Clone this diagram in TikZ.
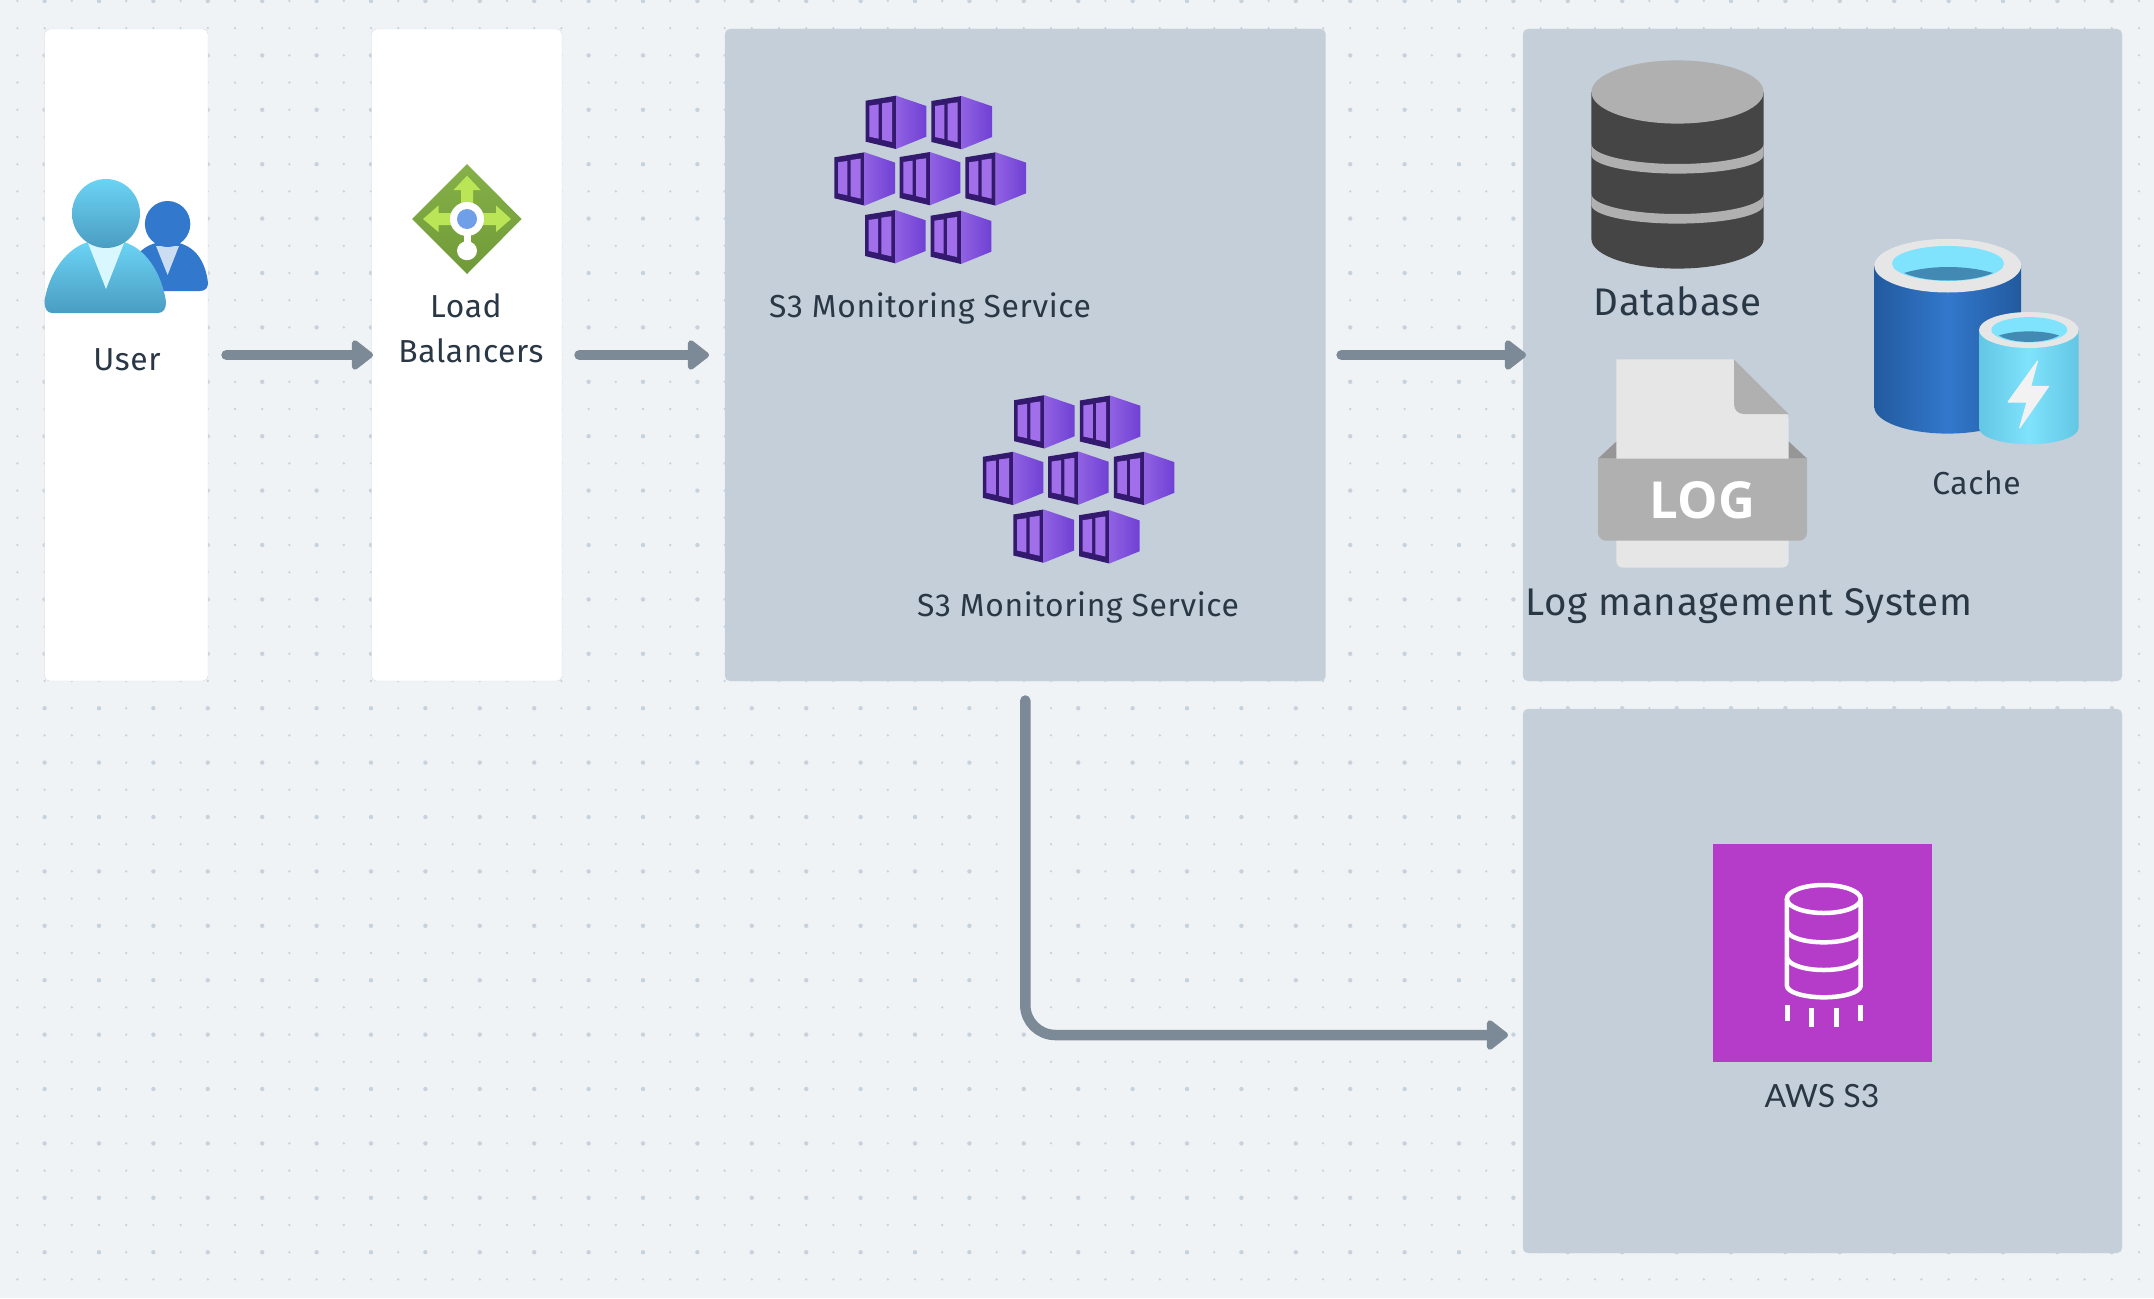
\documentclass[tikz,border=0pt]{standalone}
\usepackage{fontspec}
\usepackage{xcolor}
\usetikzlibrary{arrows.meta}
\setmainfont[LetterSpace=2]{Fira Sans}
\newfontfamily\awsfont{Lato}
\newfontfamily\logfont{Open Sans}
\definecolor{canvasbg}{HTML}{EFF3F6}
\definecolor{griddot}{HTML}{C8D2DD}
\definecolor{panelgray}{HTML}{C4CFD9}
\definecolor{panelline}{HTML}{D3DAE1}
\definecolor{flowgray}{HTML}{7C8996}
\definecolor{labelink}{HTML}{2A3744}
\definecolor{podframe}{HTML}{341A6E}
\definecolor{podglass}{HTML}{A26FEB}
\definecolor{podlight}{HTML}{9062E2}
\definecolor{poddeep}{HTML}{7040D4}
\definecolor{dbdark}{HTML}{454545}
\definecolor{dblight}{HTML}{B0B0B0}
\definecolor{paperlight}{HTML}{E6E6E6}
\definecolor{s3purple}{HTML}{B53BC9}
\definecolor{cacheblue}{HTML}{3278CC}
\definecolor{cachedeep}{HTML}{225A9E}
\definecolor{cachesky}{HTML}{7FE3FD}
\definecolor{cachesoft}{HTML}{63C6E3}
\definecolor{cachewater}{HTML}{428AB3}
\definecolor{usertop}{HTML}{6BD3F4}
\definecolor{userlow}{HTML}{4A9DC2}
\definecolor{gatetop}{HTML}{86B048}
\definecolor{gatelow}{HTML}{6F9A38}
\definecolor{gatecross}{HTML}{B9E556}
\definecolor{gatedot}{HTML}{6E9FE8}
\begin{document}
\begin{tikzpicture}[
    x=1pt,y=-1pt,
    whitebox/.style={draw=panelline,fill=white,rounded corners=5pt,inner sep=0pt,outer sep=0pt},
    graybox/.style={draw=panelline,fill=panelgray,rounded corners=5pt,inner sep=0pt,outer sep=0pt},
    label/.style={text=labelink,inner sep=0pt,align=center,font=\fontsize{31.8}{45}\selectfont},
    biglabel/.style={text=labelink,inner sep=0pt,font=\fontsize{38.5}{45}\selectfont},
    arrow/.style={-{Triangle[length=23pt,width=34pt,round]},line width=10.5pt,line cap=round,draw=flowgray},
    whiteline/.style={draw=white,line width=4.5pt},
    pod/.pic={
        \fill[podframe] (-30.3,5) -- (0,0) -- (0,53.3) -- (-30.3,46) -- cycle;
        \shade[left color=podlight,right color=poddeep] (0,0) -- (30.3,10.3) -- (30.3,41) -- (0,53.3) -- cycle;
        \fill[podglass] (-26.7,10) -- (-17.3,8.7) -- (-17.3,43) -- (-26.7,41) -- cycle;
        \fill[podglass] (-14,7.7) -- (-4,6.3) -- (-4,46.3) -- (-14,44) -- cycle;
    },
    podgroup/.pic={
        \foreach \podx/\pody in {0/0,65.7/0.3,-31.3/56.6,34/56.3,99.7/56.6,-0.7/114.3,65/115}
            \pic at (\podx,\pody) {pod};
    }
]
    \useasboundingbox (0,0) rectangle (2154,1298);
    % Canvas and its dots
    \fill[canvasbg] (0,0) rectangle (2154,1298);
    \foreach \i in {0,...,78}
        \foreach \j in {0,...,47} {
            \pgfmathsetmacro{\dotr}{(isodd(\i) && iseven(\j)) ? 2.2 : 1.3}
            \fill[griddot] (17.4+27.2*\i,1+27.2*\j) circle[radius=\dotr pt];
        }
    % Panels
    \node[whitebox,minimum width=163.5pt,minimum height=652pt] (user) at (126.25,355) {};
    \node[whitebox,minimum width=190.5pt,minimum height=652pt] (balancer) at (466.75,355) {};
    \node[graybox,minimum width=600.6pt,minimum height=652pt] (service) at (1025.3,355) {};
    \node[graybox,minimum width=599pt,minimum height=652pt] (storage) at (1822.5,355) {};
    \node[graybox,minimum width=599pt,minimum height=544pt] (bucket) at (1822.5,981) {};
    \coordinate (bucketin) at (1508,1035);
    % Arrows
    \draw[arrow,shorten <=18.5pt,shorten >=-1.5pt] (user) -- (balancer);
    \draw[arrow,shorten <=17.5pt,shorten >=16pt] (balancer) -- (service);
    \draw[arrow,shorten <=16pt,shorten >=-3pt] (service) -- (storage);
    \draw[arrow,rounded corners=30pt,shorten <=19.5pt] (service.south) |- (bucketin);
    % User icon
    \fill[cacheblue] (156,243) .. controls (148,245) and (140,250) .. (135,258) -- (150,291) -- (200,291)
        .. controls (206,291) and (208,287) .. (208,283) .. controls (206,265) and (198,248) .. (179,243) -- cycle;
    \fill[cacheblue!25!white] (156,246) -- (179,246) -- (167.6,275) -- cycle;
    \fill[cacheblue] (167.6,224) ellipse[x radius=22.7pt,y radius=23pt];
    \shade[top color=usertop,bottom color=userlow] (88,242) .. controls (62,250) and (47,280) .. (44.5,302)
        .. controls (44.5,308) and (47,313) .. (52,313) -- (158,313) .. controls (164,313) and (166,308) .. (166,302)
        .. controls (163,280) and (150,250) .. (124,242) -- cycle;
    \fill[cachesky!30!white] (88,243) -- (124,243) -- (106,289) -- cycle;
    \shade[top color=usertop,bottom color=userlow] (106,213.5) ellipse[x radius=34pt,y radius=34.5pt];
    \node[label] (userlabel) at (127,360) {User};
    % Load balancer icon
    \shade[top color=gatetop,bottom color=gatelow] (467,164) -- (521.6,219) -- (467,274) -- (412,219) -- cycle;
    \fill[gatecross] (467,175.7) -- (480.5,190) -- (473,190) -- (473,213) -- (496,213) -- (496,205.5) -- (511,219)
        -- (496,232) -- (496,225) -- (438.5,225) -- (438.5,232) -- (423,219) -- (438.5,205.5) -- (438.5,213) -- (461,213) -- (461,190) -- (453.5,190) -- cycle;
    \fill[white] (467,219) circle[radius=17pt];
    \fill[white] (463.5,230) rectangle (470.5,245);
    \fill[white] (467,250.7) ellipse[x radius=10pt,y radius=9.5pt];
    \fill[gatedot] (467,219) circle[radius=10pt];
    \node[label] (balancerlabel) at (471,328.5) {Load\hspace*{10pt}\\Balancers};
    % Service icons
    \pic at (896,95.7) {podgroup};
    \pic at (1044.4,395.2) {podgroup};
    \node[label] (podlabela) at (930,308) {S3 Monitoring Service};
    \node[label] (podlabelb) at (1078,607.5) {S3 Monitoring Service};
    % Database icon
    \fill[dbdark] (1591.4,92) -- (1591.4,239) arc[start angle=180,end angle=360,x radius=86.1pt,y radius=29.6pt] -- (1763.6,92) -- cycle;
    \fill[dblight] (1591.4,144) arc[start angle=180,end angle=360,x radius=86.1pt,y radius=20pt] -- ++(0,11)
        arc[start angle=360,end angle=180,x radius=86.1pt,y radius=18.6pt] -- cycle;
    \fill[dblight] (1591.4,194) arc[start angle=180,end angle=360,x radius=86.1pt,y radius=20pt] -- ++(0,11)
        arc[start angle=360,end angle=180,x radius=86.1pt,y radius=18.6pt] -- cycle;
    \fill[dblight] (1677.5,92) ellipse[x radius=86.1pt,y radius=31.6pt];
    \node[biglabel] (dblabel) at (1677.5,301.4) {Database};
    % Log file icon
    \fill[dblight!85!black] (1598,458.6) -- (1616.4,441.4) -- (1788.6,441.4) -- (1807,458.6) -- cycle;
    \fill[paperlight,rounded corners=6pt] (1616.4,359.3) -- (1616.4,567.5) -- (1788.6,567.5) -- (1788.6,414) [sharp corners] -- (1734,359.3) -- cycle;
    \fill[dblight] (1734,359.3) -- (1788.6,414) -- (1744,414) .. controls (1738,414) and (1734,410) .. (1734,404) -- cycle;
    \fill[dblight,rounded corners=8pt] (1598,458.6) [sharp corners] -- (1807,458.6) [rounded corners=8pt] -- (1807,540.7) -- (1598,540.7) [sharp corners] -- cycle;
    \node[text=white,inner sep=0pt,font=\logfont\bfseries\fontsize{51}{52}\selectfont] (loglabel) at (1702.5,500) {LOG};
    \node[biglabel,anchor=west] (logsystem) at (1525,606) {Log management System};
    % Cache icon
    \shade[left color=cachedeep,right color=cacheblue] (1874.3,265.7) -- (1874.3,406.8) arc[start angle=180,end angle=270,x radius=73.4pt,y radius=26.8pt] -- (1947.7,265.7) -- cycle;
    \shade[left color=cacheblue,right color=cachedeep] (1947.6,265.7) -- (1947.6,433.6) arc[start angle=270,end angle=360,x radius=73.4pt,y radius=26.8pt] -- (2021,265.7) -- cycle;
    \fill[paperlight] (1947.7,265.7) ellipse[x radius=73.4pt,y radius=26.8pt];
    \fill[cachesky] (1948,263.5) ellipse[x radius=56pt,y radius=17.5pt];
    \fill[cachewater] (1904,273) .. controls (1930,265) and (1966,265) .. (1993,273) .. controls (1970,283) and (1926,283) .. (1904,273) -- cycle;
    \shade[left color=cachesoft,right color=cachesky] (1979,330) -- (1979,428) arc[start angle=180,end angle=270,x radius=49.8pt,y radius=16.3pt] -- (2028.8,330) -- cycle;
    \shade[left color=cachesky,right color=cachesoft] (2028.7,330) -- (2028.7,444.3) arc[start angle=270,end angle=360,x radius=49.8pt,y radius=16.3pt] -- (2078.6,330) -- cycle;
    \fill[paperlight] (2028.8,330) ellipse[x radius=49.8pt,y radius=18pt];
    \fill[cachesky] (2029.3,329.8) ellipse[x radius=38pt,y radius=12.7pt];
    \fill[cachewater] (1999,335.5) .. controls (2015,330) and (2043,330) .. (2059,335.5) .. controls (2045,344) and (2013,344) .. (1999,335.5) -- cycle;
    \filldraw[white!95!black,line width=1pt,line join=round] (2037.5,361) -- (2008,402) -- (2027,402) -- (2019.6,428) -- (2048.6,386.4) -- (2030.7,386.4) -- cycle;
    \node[label] (cachelabel) at (1976.5,483) {Cache};
    % S3 icon
    \fill[s3purple] (1713.3,844.3) rectangle (1931.7,1062.3);
    \draw[whiteline] (1823.8,899) ellipse[x radius=36.9pt,y radius=14pt];
    \draw[whiteline] (1786.9,899) -- (1786.9,985.7) arc[start angle=180,end angle=360,x radius=36.9pt,y radius=11.6pt] -- (1860.7,899);
    \draw[whiteline] (1786.9,930) arc[start angle=180,end angle=360,x radius=36.9pt,y radius=12.3pt];
    \draw[whiteline] (1786.9,957) arc[start angle=180,end angle=360,x radius=36.9pt,y radius=13pt];
    \foreach \tickx/\ticka/\tickb in {1787/1005.3/1021.3,1811.7/1008.3/1026.7,1836/1008.3/1026.7,1860.7/1005.3/1021.3}
        \draw[white,line width=5pt] (\tickx,\ticka) -- (\tickx,\tickb);
    \node[label,font=\awsfont\fontsize{32}{40}\selectfont] (s3label) at (1822,1096) {AWS S3};
\end{tikzpicture}
\end{document}
